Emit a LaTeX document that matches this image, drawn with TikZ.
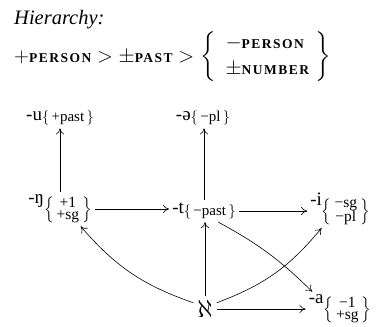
\documentclass[tikz,border=0pt]{standalone}
\usepackage{amsmath}
\usepackage{fontspec}
\setmainfont{Liberation Serif}
\usetikzlibrary{arrows.meta}
\newcommand\smc[1]{\text{\fontsize{13.5}{14}\selectfont\bfseries\addfontfeature{LetterSpace=11}#1}}
\newcommand\one[1]{\raisebox{-1.5pt}{\fontsize{15}{15}\selectfont$\{\,\text{#1}\,\}$}}
\newcommand\stk[2]{\raisebox{-10pt}{\fontsize{15.5}{15.5}\selectfont\renewcommand\arraystretch{0.75}$\left\{\begin{array}{@{\hspace{3pt}}c@{\hspace{3pt}}}\text{#1}\\\text{#2}\end{array}\right\}$}}
\newcommand\lab[2]{-#1#2}
\tikzset{
  lbl/.style={inner sep=3pt, font=\fontsize{19}{20}\selectfont},
  arr/.style={-{To[length=6pt,width=8pt]}, line width=0.6pt},
}
\begin{document}
\begin{tikzpicture}[x=1pt,y=-1pt]
\useasboundingbox (0,0) rectangle (378,327);
\node[anchor=base west, inner sep=0pt, font=\fontsize{20.5}{22}\selectfont\itshape] (title) at (14,24) {Hierarchy:};
\node[anchor=base west, inner sep=0pt, font=\fontsize{20}{23}\selectfont] (hier) at (14,62)
  {$+\smc{PERSON} > \pm\smc{PAST} > \left\{\begin{array}{@{\hspace{10pt}}l@{\hspace{6pt}}}-\smc{PERSON}\\[3pt]\pm\smc{NUMBER}\end{array}\right\}$};

\node[lbl] (u) at (60,118) {\lab{u}{\one{+past}}};
\node[lbl] (schwa) at (203,118) {\lab{ə}{\one{−pl}}};
\node[lbl] (ng) at (60,209) {\lab{ŋ}{\stk{+1}{+sg}}};
\node[lbl] (t) at (204,211) {\lab{t}{\one{−past}}};
\node[lbl] (i) at (340,209) {\lab{i}{\stk{−sg}{−pl}}};
\node[lbl, inner sep=4pt, font=\fontsize{25}{26}\selectfont] (alef) at (205,309) {$\aleph$};
\node[lbl] (a) at (340,309) {\lab{a}{\stk{−1}{+sg}}};

\draw[arr] (ng.north) -- (ng.north |- u.south);
\draw[arr] (t.north) -- (t.north |- schwa.south);
\draw[arr] (ng.east) -- (ng.east -| t.west);
\draw[arr] (t.east) -- (t.east -| i.west);
\draw[arr] (alef.north) -- (alef.north |- t.south);
\draw[arr] (alef.east) -- (alef.east -| a.west);
\draw[arr] (alef.152) to[bend left=15] (ng.-40);
\draw[arr] (alef.28) to[bend right=15] (i.-134);
\draw[arr] (t.-38) to[bend left=8] (a.148);
\end{tikzpicture}
\end{document}
